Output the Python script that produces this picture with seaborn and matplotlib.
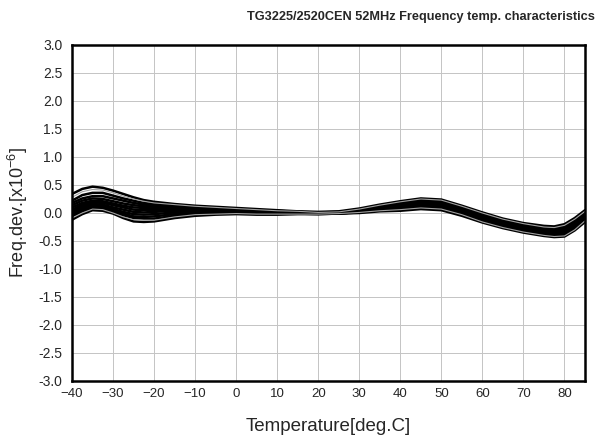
import numpy as np
import pandas as pd
import matplotlib
matplotlib.use("Agg")
import matplotlib.pyplot as plt
from matplotlib import font_manager
import seaborn as sns

# Temperatures (deg.C), denser where the curves bend sharply
temps = [-40, -37.5, -35, -32.5, -30, -27.5, -25, -22.5, -20, -15, -10, -5, 0, 5, 10, 15,
         20, 25, 30, 35, 40, 45, 50, 55, 60, 65, 70, 75, 77.5, 80, 82.5, 85]

# Frequency deviation curves [x10^-6]
c01 = [0.34, 0.43, 0.47, 0.45, 0.40, 0.34, 0.28, 0.23, 0.20, 0.16, 0.13, 0.11, 0.09, 0.07, 0.05, 0.03,
       0.02, 0.03, 0.08, 0.15, 0.21, 0.26, 0.24, 0.13, 0.01, -0.10, -0.18, -0.23, -0.24, -0.20, -0.09, 0.05]
c02 = [0.28, 0.38, 0.42, 0.41, 0.36, 0.30, 0.25, 0.21, 0.18, 0.15, 0.12, 0.10, 0.08, 0.06, 0.04, 0.03,
       0.01, 0.02, 0.07, 0.14, 0.20, 0.25, 0.23, 0.12, 0.00, -0.11, -0.19, -0.25, -0.26, -0.22, -0.11, 0.03]
c03 = [0.22, 0.32, 0.36, 0.36, 0.31, 0.26, 0.22, 0.18, 0.16, 0.13, 0.11, 0.09, 0.07, 0.05, 0.04, 0.02,
       0.01, 0.02, 0.06, 0.13, 0.19, 0.23, 0.22, 0.11, -0.02, -0.13, -0.21, -0.27, -0.28, -0.24, -0.13, 0.01]
c04 = [0.18, 0.26, 0.30, 0.30, 0.26, 0.22, 0.18, 0.15, 0.14, 0.12, 0.10, 0.08, 0.06, 0.05, 0.03, 0.02,
       0.00, 0.01, 0.06, 0.12, 0.18, 0.22, 0.20, 0.09, -0.03, -0.14, -0.22, -0.28, -0.30, -0.26, -0.15, -0.01]
c05 = [0.14, 0.22, 0.26, 0.25, 0.21, 0.17, 0.14, 0.12, 0.11, 0.10, 0.09, 0.07, 0.05, 0.04, 0.03, 0.01,
       0.00, 0.01, 0.05, 0.11, 0.17, 0.21, 0.19, 0.08, -0.05, -0.16, -0.24, -0.30, -0.32, -0.28, -0.17, -0.03]
c06 = [0.10, 0.18, 0.22, 0.21, 0.17, 0.13, 0.10, 0.09, 0.08, 0.08, 0.07, 0.06, 0.05, 0.03, 0.02, 0.01,
       0.00, 0.00, 0.04, 0.10, 0.15, 0.19, 0.17, 0.06, -0.07, -0.18, -0.26, -0.32, -0.34, -0.30, -0.19, -0.05]
c07 = [0.06, 0.15, 0.19, 0.18, 0.14, 0.10, 0.06, 0.05, 0.05, 0.06, 0.06, 0.05, 0.04, 0.03, 0.02, 0.01,
       0.00, 0.00, 0.03, 0.09, 0.14, 0.18, 0.15, 0.05, -0.08, -0.19, -0.27, -0.33, -0.35, -0.32, -0.21, -0.07]
c08 = [0.03, 0.12, 0.16, 0.15, 0.10, 0.06, 0.02, 0.01, 0.02, 0.04, 0.04, 0.04, 0.03, 0.02, 0.01, 0.00,
       -0.01, 0.00, 0.03, 0.08, 0.12, 0.16, 0.14, 0.03, -0.10, -0.21, -0.29, -0.35, -0.37, -0.34, -0.23, -0.09]
c09 = [0.00, 0.09, 0.13, 0.12, 0.07, 0.02, -0.02, -0.03, -0.02, 0.01, 0.02, 0.02, 0.02, 0.01, 0.00, 0.00,
       -0.01, -0.01, 0.02, 0.07, 0.11, 0.14, 0.12, 0.02, -0.11, -0.22, -0.30, -0.36, -0.38, -0.36, -0.25, -0.10]
c10 = [-0.03, 0.06, 0.11, 0.10, 0.04, -0.01, -0.06, -0.07, -0.06, -0.02, 0.00, 0.01, 0.01, 0.00, 0.00, -0.01,
       -0.01, -0.01, 0.02, 0.06, 0.09, 0.12, 0.10, 0.00, -0.13, -0.24, -0.32, -0.38, -0.40, -0.38, -0.27, -0.12]
c11 = [-0.06, 0.03, 0.09, 0.08, 0.02, -0.04, -0.09, -0.10, -0.10, -0.05, -0.02, -0.01, 0.00, -0.01, -0.01, -0.01,
       -0.02, -0.01, 0.01, 0.05, 0.08, 0.11, 0.09, -0.02, -0.15, -0.25, -0.33, -0.39, -0.41, -0.40, -0.28, -0.13]
c12 = [-0.09, 0.00, 0.07, 0.06, 0.00, -0.07, -0.12, -0.13, -0.13, -0.07, -0.03, -0.02, -0.01, -0.02, -0.02, -0.02,
       -0.02, -0.01, 0.01, 0.04, 0.06, 0.09, 0.07, -0.03, -0.16, -0.26, -0.34, -0.40, -0.42, -0.41, -0.30, -0.14]
c13 = [-0.12, -0.02, 0.05, 0.04, -0.01, -0.09, -0.15, -0.16, -0.15, -0.09, -0.05, -0.03, -0.02, -0.03, -0.03, -0.02,
       -0.02, -0.01, 0.00, 0.03, 0.04, 0.07, 0.05, -0.05, -0.17, -0.27, -0.35, -0.41, -0.43, -0.42, -0.31, -0.16]

curves = {"c01": c01, "c02": c02, "c03": c03, "c04": c04, "c05": c05, "c06": c06,
          "c07": c07, "c08": c08, "c09": c09, "c10": c10, "c11": c11, "c12": c12, "c13": c13}
gray_curves = ["c02", "c12"]

xticks = [-40, -30, -20, -10, 0, 10, 20, 30, 40, 50, 60, 70, 80]
yticks = [-3.0, -2.5, -2.0, -1.5, -1.0, -0.5, 0.0, 0.5, 1.0, 1.5, 2.0, 2.5, 3.0]

title = "TG3225/2520CEN 52MHz Frequency temp. characteristics"
xlabel = "Temperature[deg.C]"
ylabel = "Freq.dev.[x10$^{-6}$]"

rows = []
for name, vals in curves.items():
    for t, v in zip(temps, vals):
        rows.append({"temp": t, "dev": v, "unit": name})
df = pd.DataFrame(rows)

sns.set_style("white")
plt.rcParams["font.family"] = ["Liberation Sans", "DejaVu Sans"]
plt.rcParams["mathtext.fontset"] = "custom"
plt.rcParams["mathtext.rm"] = "Liberation Sans"
plt.rcParams["mathtext.it"] = "Liberation Sans"

installed = {f.name for f in font_manager.fontManager.ttflist}
if "Liberation Sans Narrow" in installed:
    title_family, title_size = ["Liberation Sans Narrow", "Liberation Sans"], 11.0
else:
    title_family, title_size = ["Liberation Sans", "DejaVu Sans"], 9.2

fig = plt.figure(figsize=(5.98, 4.37), dpi=100)
ax = fig.add_axes([72 / 598, 1 - 381 / 437, (585 - 72) / 598, (381 - 45) / 437])

black_df = df[~df["unit"].isin(gray_curves)]
gray_df = df[df["unit"].isin(gray_curves)]
sns.lineplot(data=black_df, x="temp", y="dev", units="unit", estimator=None,
             color="black", lw=1.8, ax=ax, legend=False)
sns.lineplot(data=gray_df, x="temp", y="dev", units="unit", estimator=None,
             color="#a0a0a0", lw=0.8, ax=ax, legend=False)

ax.set_xlim(-40, 85)
ax.set_ylim(-3.0, 3.0)
ax.set_xticks(xticks)
ax.set_xticklabels([("\u2212" + str(abs(v))) if v < 0 else str(v) for v in xticks], fontsize=9.5)
ax.set_yticks(yticks)
ax.set_yticklabels([f"{v:.1f}" for v in yticks], fontsize=10)
ax.tick_params(axis="both", length=0)
ax.tick_params(axis="x", pad=5)
ax.tick_params(axis="y", pad=7)
ax.grid(True, color="#c4c4c4", lw=0.7)
ax.set_axisbelow(True)
for sp in ax.spines.values():
    sp.set_color("black")
    sp.set_linewidth(1.8)

ax.set_xlabel(xlabel, fontsize=13.5, labelpad=13)
ax.set_ylabel(ylabel, fontsize=13, labelpad=6)
fig.text(595 / 598, 1 - 17 / 437, title, ha="right", va="center",
         fontsize=title_size, fontweight="bold", family=title_family)

fig.savefig("out.png", dpi=100)
